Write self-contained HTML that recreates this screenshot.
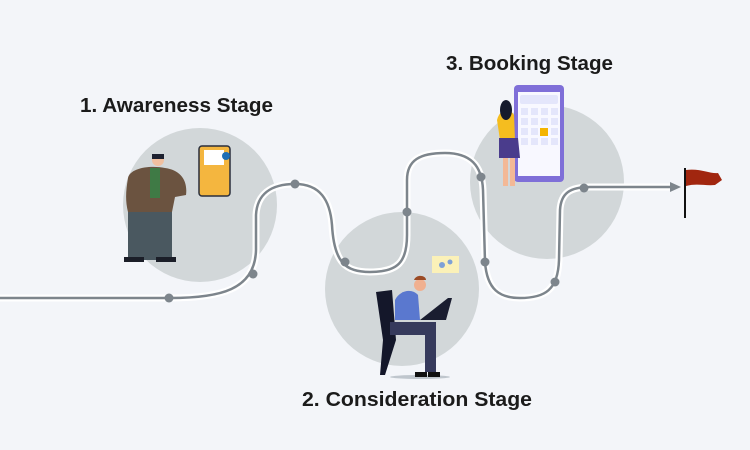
<!DOCTYPE html>
<html><head><style>
html,body{margin:0;padding:0;background:#f3f5f9;}
svg{display:block}
text{font-family:"Liberation Sans",sans-serif;font-weight:600;fill:#1b1b1b}
</style></head><body>
<svg width="750" height="450" viewBox="0 0 750 450">
<rect width="750" height="450" fill="#f3f5f9"/>
<circle cx="200" cy="205" r="77" fill="#d2d7d9"/>
<circle cx="402" cy="289" r="77" fill="#d2d7d9"/>
<circle cx="547" cy="182" r="77" fill="#d2d7d9"/>
<g fill="none" stroke-linecap="round">
<path d="M0 298 H170 C220 298 255 290 256 250 V215 C257 195 270 184 295 184 C320 184 330 200 332 225 C334 262 345 272 370 272 C398 272 407 262 407 235 V180 C407 160 420 153 445 153 C470 153 482 165 483 190 L485 262 C487 290 500 298 520 298 C545 298 558 290 559 260 L560 210 C561 193 570 187 590 187 H672" stroke="#ffffff" stroke-width="7"/>
<path d="M0 298 H170 C220 298 255 290 256 250 V215 C257 195 270 184 295 184 C320 184 330 200 332 225 C334 262 345 272 370 272 C398 272 407 262 407 235 V180 C407 160 420 153 445 153 C470 153 482 165 483 190 L485 262 C487 290 500 298 520 298 C545 298 558 290 559 260 L560 210 C561 193 570 187 590 187 H672" stroke="#7d858c" stroke-width="2.5"/>
</g>
<polygon points="670,182 681,187 670,192" fill="#7d858c"/>
<g fill="#7d858c">
<circle cx="169" cy="298" r="4.5"/><circle cx="253" cy="274" r="4.5"/><circle cx="295" cy="184" r="4.5"/>
<circle cx="345" cy="262" r="4.5"/><circle cx="407" cy="212" r="4.5"/><circle cx="481" cy="177" r="4.5"/>
<circle cx="485" cy="262" r="4.5"/><circle cx="555" cy="282" r="4.5"/><circle cx="584" cy="188" r="4.5"/>
</g>
<rect x="684" y="168" width="2" height="50" fill="#111"/>
<path d="M686 170 C700 168 710 174 718 173 L722 180 L715 185 C705 186 697 183 686 186Z" fill="#a1260f"/>
<rect x="128" y="210" width="44" height="50" fill="#4a5860"/>
<path d="M128 178 C130 168 150 165 165 168 C180 170 188 180 186 195 L175 197 L172 212 H128 C125 200 126 190 128 178Z" fill="#6b5340"/>
<rect x="150" y="168" width="10" height="30" fill="#3f7a45"/>
<circle cx="158" cy="160" r="6" fill="#f0c0a0"/>
<rect x="152" y="154" width="12" height="5" fill="#1d2130"/>
<rect x="124" y="257" width="20" height="5" fill="#1b1e28"/><rect x="156" y="257" width="20" height="5" fill="#1b1e28"/>
<rect x="199" y="146" width="31" height="50" rx="3" fill="#f4b63f" stroke="#2a2f3c" stroke-width="1.5"/>
<rect x="204" y="150" width="20" height="15" fill="#fff"/>
<circle cx="226" cy="156" r="4" fill="#1f6fb5"/>
<rect x="514" y="85" width="50" height="97" rx="4" fill="#7f6fd8"/>
<rect x="518" y="92" width="42" height="84" fill="#f8f8ff"/>
<g fill="#e4e6fb">
<rect x="521" y="108" width="7" height="7"/><rect x="531" y="108" width="7" height="7"/><rect x="541" y="108" width="7" height="7"/><rect x="551" y="108" width="7" height="7"/>
<rect x="521" y="118" width="7" height="7"/><rect x="531" y="118" width="7" height="7"/><rect x="541" y="118" width="7" height="7"/><rect x="551" y="118" width="7" height="7"/>
<rect x="521" y="128" width="7" height="7"/><rect x="531" y="128" width="7" height="7"/><rect x="551" y="128" width="7" height="7"/>
<rect x="521" y="138" width="7" height="7"/><rect x="531" y="138" width="7" height="7"/><rect x="541" y="138" width="7" height="7"/><rect x="551" y="138" width="7" height="7"/>
</g>
<rect x="540" y="128" width="8" height="8" fill="#f4b400"/>
<rect x="520" y="95" width="38" height="9" rx="2" fill="#e4e6fb"/>
<path d="M497 120 C500 108 510 108 514 115 L515 140 H500Z" fill="#f5bd1f"/>
<path d="M499 138 H518 L520 158 H499Z" fill="#4a3c8c"/>
<ellipse cx="506" cy="110" rx="6" ry="10" fill="#151a2c"/>
<rect x="503" y="158" width="5" height="28" fill="#f3b896"/><rect x="510" y="158" width="5" height="28" fill="#f3b896"/>
<path d="M376 292 L392 290 L396 340 L385 375 L380 375 L383 340Z" fill="#14172a"/>
<path d="M395 300 C400 290 412 288 418 295 L420 320 H395Z" fill="#5a78cf"/>
<path d="M390 322 H436 V372 H425 V335 H390Z" fill="#363a5c"/>
<circle cx="420" cy="285" r="6" fill="#f0b090"/>
<path d="M414 280 C416 274 426 275 426 280Z" fill="#9b4a25"/>
<path d="M420 320 L446 320 L452 298 L448 298 Z" fill="#1a1d30"/>
<rect x="432" y="256" width="27" height="17" fill="#fbf1b8"/>
<circle cx="442" cy="265" r="3" fill="#7ea1d6"/><circle cx="450" cy="262" r="2.5" fill="#7ea1d6"/>
<ellipse cx="420" cy="377" rx="30" ry="2" fill="#bfc6cd"/>
<rect x="415" y="372" width="12" height="5" fill="#111"/><rect x="428" y="372" width="12" height="5" fill="#111"/>
<text x="80" y="112" font-size="20" textLength="193" lengthAdjust="spacingAndGlyphs">1. Awareness Stage</text>
<text x="302" y="406" font-size="20" textLength="230" lengthAdjust="spacingAndGlyphs">2. Consideration Stage</text>
<text x="446" y="70" font-size="20" textLength="167" lengthAdjust="spacingAndGlyphs">3. Booking Stage</text>
</svg>
</body></html>
